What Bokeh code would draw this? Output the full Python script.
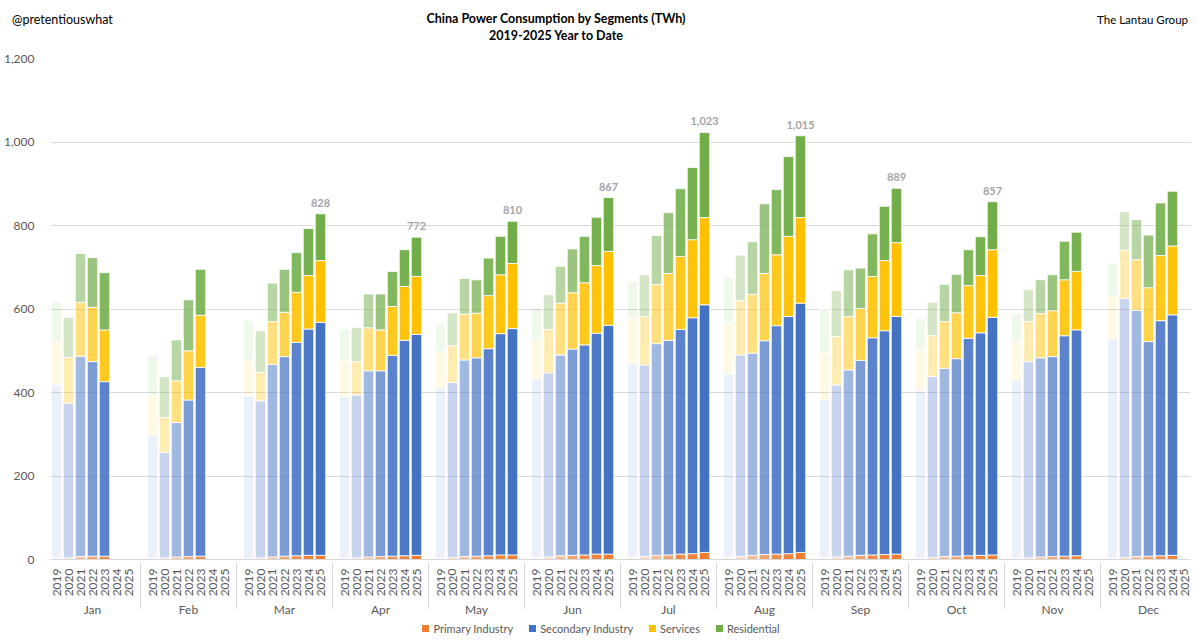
from bokeh.plotting import figure
from bokeh.layouts import column
from bokeh.models import (FactorRange, Range1d, ColumnDataSource, Div,
                          FixedTicker, NumeralTickFormatter)
from bokeh.core.properties import value
from bokeh.embed import file_html
from bokeh.resources import INLINE

months = ["Jan", "Feb", "Mar", "Apr", "May", "Jun",
          "Jul", "Aug", "Sep", "Oct", "Nov", "Dec"]
years = ["2019", "2020", "2021", "2022", "2023", "2024", "2025"]

# TWh per month, one row per month, one column per year (None = no data)
primary = [
    [3, 4, 7, 8, 8, None, None],
    [3, 4, 6, 7, 8, None, None],
    [2, 4, 6, 8, 9, 10, 10],
    [3, 4, 6, 7, 8, 9, 10],
    [3, 5, 7, 8, 9, 11, 11],
    [4, 6, 9, 10, 11, 13, 13],
    [5, 7, 10, 11, 13, 14, 17],
    [5, 7, 10, 12, 13, 14, 17],
    [4, 6, 8, 10, 11, 12, 13],
    [3, 5, 7, 8, 9, 10, 11],
    [3, 4, 6, 7, 8, 9, None],
    [3, 5, 7, 8, 9, 10, None],
]
secondary = [
    [415, 370, 480, 466, 418, None, None],
    [295, 252, 322, 375, 452, None, None],
    [390, 376, 461, 478, 511, 542, 558],
    [387, 390, 446, 445, 481, 516, 529],
    [408, 419, 471, 475, 496, 530, 542],
    [429, 441, 481, 494, 503, 529, 548],
    [465, 459, 507, 514, 538, 565, 593],
    [440, 483, 484, 512, 547, 568, 597],
    [379, 412, 446, 467, 520, 536, 569],
    [403, 433, 451, 473, 521, 533, 569],
    [427, 470, 477, 479, 528, 541, None],
    [526, 620, 590, 514, 563, 576, None],
]
services = [
    [104, 110, 129, 130, 124, None, None],
    [96, 84, 100, 118, 125, None, None],
    [86, 68, 103, 106, 120, 128, 148],
    [86, 80, 103, 98, 117, 129, 139],
    [87, 88, 110, 107, 127, 141, 156],
    [96, 104, 124, 135, 149, 162, 177],
    [109, 116, 142, 160, 175, 187, 209],
    [122, 130, 141, 161, 170, 192, 205],
    [112, 116, 128, 124, 147, 168, 177],
    [96, 98, 112, 110, 126, 137, 162],
    [92, 96, 106, 110, 134, 140, None],
    [103, 116, 121, 129, 156, 165, None],
]
residential = [
    [95, 96, 117, 119, 137, None, None],
    [94, 98, 98, 122, 110, None, None],
    [94, 100, 92, 103, 95, 113, 112],
    [76, 82, 81, 86, 84, 88, 94],
    [68, 79, 85, 80, 90, 92, 101],
    [73, 83, 88, 105, 111, 116, 129],
    [87, 100, 117, 146, 162, 173, 204],
    [109, 109, 126, 167, 156, 191, 196],
    [104, 110, 112, 97, 102, 130, 130],
    [75, 80, 89, 92, 86, 93, 115],
    [68, 76, 81, 86, 92, 94, None],
    [78, 92, 96, 126, 126, 131, None],
]

segments = ["Primary Industry", "Secondary Industry", "Services", "Residential"]
colors = ["#ED7D31", "#4472C4", "#FFC000", "#70AD47"]
year_alpha = [0.1, 0.3, 0.5, 0.7, 0.88, 0.95, 1.0]
labelled_months = ["Mar", "Apr", "May", "Jun", "Jul", "Aug", "Sep", "Oct"]

FONT = "Lato"
GREY = "#595959"

header = Div(width=1200, height=50, margin=(0, 0, 0, 0), text=f"""
<div style="position:relative;width:1200px;height:50px;font-family:{FONT};color:#000;">
  <div style="position:absolute;left:12px;top:11px;font-size:12.5px;">@pretentiouswhat</div>
  <div style="position:absolute;left:0;width:1112px;top:10px;text-align:center;
              font-size:12.5px;font-weight:bold;line-height:17px;">
    China Power Consumption by Segments (TWh)<br>2019-2025 Year to Date</div>
  <div style="position:absolute;right:12px;top:12px;font-size:11.5px;">The Lantau Group</div>
</div>""")

factors = [(m, y) for m in months for y in years]
p = figure(x_range=FactorRange(*factors, factor_padding=0, group_padding=1.0, range_padding=0),
           y_range=Range1d(0, 1200), frame_width=1140, frame_height=501,
           output_backend="svg", toolbar_location=None,
           min_border_left=47, min_border_right=13, min_border_top=8, min_border_bottom=60)

keys = ["p", "s", "v", "r"]
tables = [primary, secondary, services, residential]
for yi, yr in enumerate(years):
    data = {"x": []}
    for k in keys:
        data[k] = []
    for mi, m in enumerate(months):
        if primary[mi][yi] is None:
            continue
        data["x"].append((m, yr))
        for k, t in zip(keys, tables):
            data[k].append(t[mi][yi])
    src = ColumnDataSource(data)
    p.vbar_stack(keys, x="x", width=0.87, source=src, fill_color=colors,
                 fill_alpha=year_alpha[yi], line_color="white", line_width=0.8)

# totals above the 2025 bars
yi = years.index("2025")
tx, ty, tt = [], [], []
for mi, m in enumerate(months):
    if m not in labelled_months:
        continue
    total = sum(t[mi][yi] for t in tables)
    tx.append((m, "2025"))
    ty.append(total)
    tt.append(f"{total:,}")
p.text(x=tx, y=ty, text=tt, text_align="center", text_baseline="bottom", y_offset=-7,
       text_font=value(FONT), text_font_size="11px", text_font_style="bold", text_color="#A6A6A6")

xa = p.xaxis[0]
xa.major_label_orientation = 1.5708
xa.major_label_standoff = 3
xa.major_label_text_font = FONT
xa.major_label_text_font_size = "12px"
xa.major_label_text_color = GREY
xa.group_text_font = FONT
xa.group_text_font_size = "12px"
xa.group_text_font_style = "normal"
xa.group_text_color = GREY
xa.separator_line_color = "#D9D9D9"
xa.separator_line_width = 1
xa.major_tick_line_color = None
xa.minor_tick_line_color = None
xa.axis_line_color = "#D9D9D9"

ya = p.yaxis[0]
ya.ticker = FixedTicker(ticks=[0, 200, 400, 600, 800, 1000, 1200])
ya.formatter = NumeralTickFormatter(format="0,0")
ya.axis_line_color = None
ya.major_tick_line_color = None
ya.minor_tick_line_color = None
ya.major_label_text_font = FONT
ya.major_label_text_font_size = "12px"
ya.major_label_text_color = GREY
ya.major_label_standoff = 10

p.xgrid.grid_line_color = None
p.ygrid.grid_line_color = "#D9D9D9"
p.outline_line_color = None

# legend row under the axis
swatches = "".join(
    f'<span style="display:inline-flex;align-items:center;margin:0 8px;">'
    f'<span style="display:inline-block;width:7px;height:7px;background:{c};margin-right:4px;"></span>'
    f'{s}</span>'
    for s, c in zip(segments, colors))
footer = Div(width=1200, height=24, margin=(0, 0, 0, 0), text=f"""
<div style="width:1200px;text-align:center;font-family:{FONT};font-size:11px;
            color:{GREY};line-height:14px;padding-left:2px;margin-top:-3px;">{swatches}</div>""")

page = column(header, p, footer, spacing=0)
open("out.html", "w").write(file_html(page, INLINE))
